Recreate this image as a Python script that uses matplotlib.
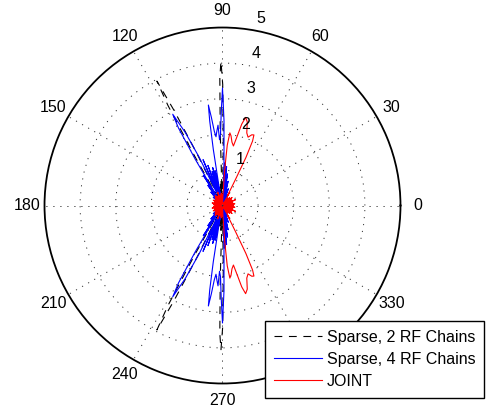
import numpy as np
import matplotlib
matplotlib.use('Agg')
import matplotlib.pyplot as plt

plt.rcParams['font.family'] = ['Liberation Sans', 'DejaVu Sans']

# beam patterns, upper half (0..180 deg); lower half is the mirror image
sparse2_deg = [0, 8, 15, 25, 35, 45, 55, 62, 70, 76, 80, 84, 86.5, 88.2, 88.8,
               89.3, 89.9, 90.6, 91.2, 91.8, 92.4, 93.5, 94.5, 95.5, 97, 98.5,
               100.5, 102.5, 104.5, 106.5, 109, 111, 113, 114.8, 116.2, 117,
               117.8, 118.6, 119.4, 120.3, 121.8, 123.5, 125.5, 128, 131, 134,
               138, 143, 150, 158, 165, 172, 180]
sparse2_r = [0.05, 0.1, 0.03, 0.12, 0.04, 0.15, 0.05, 0.2, 0.06, 0.25, 0.08,
             0.35, 0.1, 0.6, 0.2, 1.8, 3.4, 4.05, 3.6, 2.0, 0.2, 0.7, 0.1, 0.6,
             0.1, 0.5, 0.6, 0.1, 0.5, 0.1, 0.7, 0.1, 0.8, 0.2, 1.6, 3.0, 3.95,
             3.2, 1.6, 0.2, 0.8, 0.1, 0.6, 0.1, 0.4, 0.05, 0.3, 0.05, 0.2, 0.04,
             0.12, 0.03, 0.08]

sparse4_deg = [0, 5, 10, 15, 20, 27, 33, 40, 45, 52, 57, 63, 67, 71, 74, 77, 79,
               81, 82.5, 84, 85.5, 86.5, 87.2, 88.0, 89.0, 90.0, 90.8, 91.6,
               92.6, 93.2, 94.3, 95.4, 96.3, 97.2, 98.0, 98.6, 99.3, 100.2, 101,
               102, 103, 104.5, 105.5, 107, 108.5, 110, 111.5, 113, 114.5,
               115.8, 117, 118.6, 119.6, 120.5, 121.3, 122.5, 124, 126, 128, 131,
               134, 138, 143, 150, 157, 165, 172, 180]
sparse4_r = [0.1, 0.2, 0.05, 0.25, 0.05, 0.2, 0.05, 0.3, 0.05, 0.25, 0.05, 0.35,
             0.05, 0.5, 0.1, 0.7, 0.1, 0.9, 0.15, 1.1, 0.2, 1.2, 0.5, 1.2, 2.4,
             3.3, 2.6, 2.0, 1.85, 2.26, 2.1, 1.94, 2.1, 2.5, 2.85, 2.4, 1.6,
             0.6, 0.2, 1.0, 0.2, 1.1, 0.2, 1.0, 0.2, 1.2, 0.3, 1.4, 0.4, 1.5,
             2.3, 2.92, 2.5, 1.5, 0.3, 1.0, 0.15, 0.7, 0.1, 0.5, 0.05, 0.35,
             0.05, 0.25, 0.05, 0.15, 0.03, 0.1]

joint_deg = [0, 4, 8, 12, 16, 20, 24, 28, 32, 36, 40, 44, 48, 52, 56, 59, 61.5,
             63, 63.5, 64, 65, 66, 67.5, 69.5, 71.5, 73.5, 75.3, 76.7, 78, 79.6,
             81.5, 83, 84.2, 85.5, 86.5, 87.5, 89, 91, 93, 96, 99, 102, 106, 110,
             114, 118, 122, 126, 130, 134, 138, 142, 146, 150, 154, 158, 162,
             166, 170, 174, 178, 180]
joint_r = [0.3, 0.05, 0.35, 0.05, 0.3, 0.05, 0.4, 0.05, 0.3, 0.05, 0.35, 0.05,
           0.3, 0.05, 0.25, 0.05, 0.4, 0.3, 0.8, 1.5, 2.0, 2.17, 2.15, 2.05,
           2.15, 2.45, 2.56, 2.35, 2.0, 1.7, 1.8, 1.97, 2.05, 1.7, 1.0, 0.3,
           0.05, 0.3, 0.05, 0.35, 0.05, 0.3, 0.05, 0.4, 0.05, 0.3, 0.05, 0.35,
           0.05, 0.3, 0.05, 0.25, 0.05, 0.3, 0.05, 0.25, 0.05, 0.3, 0.05, 0.25,
           0.05, 0.2]

theta_ticks = list(range(0, 360, 30))
r_ticks = [1, 2, 3, 4, 5]


def full_circle(deg, r):
    deg = np.array(deg, dtype=float)
    r = np.array(r, dtype=float)
    d = np.concatenate([deg, 360 - deg[::-1][1:]])
    rr = np.concatenate([r, r[::-1][1:]])
    return np.deg2rad(d), rr


fig = plt.figure(figsize=(4.94, 4.13), dpi=100)
ax = fig.add_axes([0.0901, 0.0714, 0.7206, 0.862], projection='polar')

t, r = full_circle(sparse2_deg, sparse2_r)
ax.plot(t, r, color='k', lw=0.8, ls=(0, (7, 6)), label='Sparse, 2 RF Chains')
t, r = full_circle(sparse4_deg, sparse4_r)
ax.plot(t, r, color='b', lw=0.8, label='Sparse, 4 RF Chains')
t, r = full_circle(joint_deg, joint_r)
ax.plot(t, r, color='r', lw=0.8, label='JOINT')

ax.set_ylim(0, 5)
ax.set_rticks(r_ticks[:-1])
ax.set_yticklabels([])
ax.set_thetagrids(theta_ticks, [str(a) for a in theta_ticks], fontsize=11.5)
ax.tick_params(axis='x', pad=1.8)
ax.grid(True, color='0.2', lw=0.7, ls=(0, (1.2, 6)))
ax.spines['polar'].set_linewidth(1.3)
ax.spines['polar'].set_color('k')

for v in r_ticks:
    ax.annotate(str(v), xy=(np.deg2rad(81.8), v), xytext=(9.4, 7.9),
                textcoords='offset points', ha='center', va='center',
                fontsize=11.5, annotation_clip=False)

leg = fig.legend(loc='lower right', bbox_to_anchor=(0.9804, 0.037),
                 fontsize=11.5, handlelength=3.0, handletextpad=0.3,
                 labelspacing=0.45, borderpad=0.55, borderaxespad=0,
                 fancybox=False, framealpha=1, edgecolor='k')
leg.get_frame().set_linewidth(1.0)

fig.savefig('out.png', dpi=100)
